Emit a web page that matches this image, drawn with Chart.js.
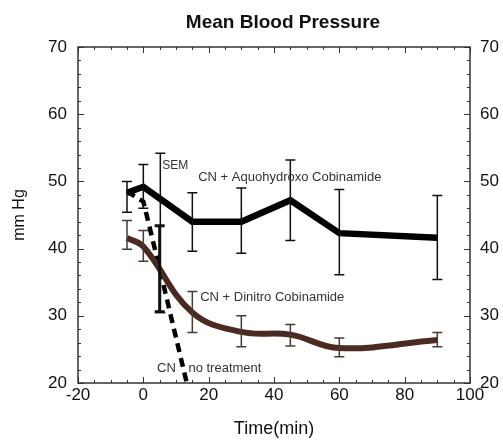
<!DOCTYPE html>
<html>
<head>
<meta charset="utf-8">
<script src="https://cdn.jsdelivr.net/npm/chart.js@4/dist/chart.umd.min.js"></script>
<style>
  html, body { margin: 0; padding: 0; background: #fff; }
  #wrap { width: 503px; height: 441px; }
</style>
</head>
<body>
<div id="wrap"><canvas id="c" width="503" height="441"></canvas></div>
<script>
// ---- data ----
const timeAquo = [-5, 0, 15, 30, 45, 60, 90];
const meanAquo = [48.3, 49.2, 44.0, 44.0, 47.2, 42.3, 41.6];
const hiAquo   = [50.0, 52.5, 48.3, 49.0, 53.2, 48.8, 47.9];
const loAquo   = [45.4, 46.0, 39.6, 39.3, 41.2, 36.1, 35.4];

const timeDinitro = [-5, 0, 15, 30, 45, 60, 90];
const meanDinitro = [41.6, 40.3, 30.5, 27.6, 27.2, 25.2, 26.4];
const hiDinitro   = [44.2, 42.7, 33.6, 30.0, 28.7, 26.7, 27.5];
const loDinitro   = [39.9, 38.1, 27.5, 25.4, 25.5, 23.9, 25.4];

const timeNone = [-5, 0, 5, 15];
const meanNone = [48.5, 47.0, 37.0, 16.5];
const hiNone   = [null, null, 43.4, null];
const loNone   = [null, null, 30.6, null];

const semTime = [5.2];
const semHi   = [54.2];
const semLo   = [30.5];

const xTicks = [-20, 0, 20, 40, 60, 80, 100];
const yTicks = [20, 30, 40, 50, 60, 70];

const labels = [
  { text: 'SEM', x: 5.8, y: 52.4, size: 12 },
  { text: 'CN + Aquohydroxo Cobinamide', x: 16.8, y: 50.6, size: 13 },
  { text: 'CN + Dinitro Cobinamide', x: 17.4, y: 32.7, size: 13 },
  { text: 'CN', x: 4.2, y: 22.1, size: 13 },
  { text: 'no treatment', x: 13.8, y: 22.1, size: 13 }
];

const FONT = "'Liberation Sans', Arial, Helvetica, sans-serif";
const BROWN = '#4b2a22';

function pts(xs, ys) { return xs.map((x, i) => ({ x: x, y: ys[i] })); }

const errorBarPlugin = {
  id: 'errorBars',
  afterDatasetsDraw(chart) {
    const ctx = chart.ctx, xs = chart.scales.x, ys = chart.scales.y;
    const area = chart.chartArea;
    function bars(times, lo, hi, color, width) {
      ctx.save();
      ctx.beginPath();
      ctx.rect(area.left, area.top, area.right - area.left, area.bottom - area.top);
      ctx.clip();
      ctx.strokeStyle = color;
      ctx.lineWidth = width;
      times.forEach((t, i) => {
        if (lo[i] == null || hi[i] == null) return;
        const px = xs.getPixelForValue(t);
        const pl = ys.getPixelForValue(lo[i]);
        const ph = ys.getPixelForValue(hi[i]);
        ctx.beginPath();
        ctx.moveTo(px, pl); ctx.lineTo(px, ph);
        ctx.moveTo(px - 5, pl); ctx.lineTo(px + 5, pl);
        ctx.moveTo(px - 5, ph); ctx.lineTo(px + 5, ph);
        ctx.stroke();
      });
      ctx.restore();
    }
    bars(timeAquo, loAquo, hiAquo, '#111', 1.5);
    bars(timeDinitro, loDinitro, hiDinitro, '#4a3a35', 1.5);
    bars(timeNone, loNone, hiNone, '#111', 3);
    bars(semTime, semLo, semHi, '#111', 1.5);
  }
};

const framePlugin = {
  id: 'frame',
  afterDraw(chart) {
    const ctx = chart.ctx, xs = chart.scales.x, ys = chart.scales.y;
    const a = chart.chartArea;
    ctx.save();
    ctx.strokeStyle = '#333';
    ctx.lineWidth = 1.5;
    ctx.strokeRect(a.left, a.top, a.right - a.left, a.bottom - a.top);
    ctx.lineWidth = 1;
    ctx.beginPath();
    for (let v = -20; v <= 100; v += 5) {
      const px = Math.round(xs.getPixelForValue(v)) + 0.5;
      const len = (v % 20 === 0) ? 6 : 3;
      ctx.moveTo(px, a.bottom); ctx.lineTo(px, a.bottom - len);
      ctx.moveTo(px, a.top); ctx.lineTo(px, a.top + len);
    }
    for (let v = 20; v <= 70; v += 2) {
      const py = Math.round(ys.getPixelForValue(v)) + 0.5;
      const len = (v % 10 === 0) ? 6 : 3;
      ctx.moveTo(a.left, py); ctx.lineTo(a.left + len, py);
      ctx.moveTo(a.right, py); ctx.lineTo(a.right - len, py);
    }
    ctx.stroke();

    // title
    ctx.fillStyle = '#111';
    ctx.font = 'bold 19px ' + FONT;
    ctx.textAlign = 'center';
    ctx.textBaseline = 'middle';
    ctx.fillText('Mean Blood Pressure', 283, 23);

    // annotations
    ctx.fillStyle = '#333';
    ctx.textAlign = 'left';
    labels.forEach(l => {
      ctx.font = l.size + 'px ' + FONT;
      ctx.fillText(l.text, xs.getPixelForValue(l.x), ys.getPixelForValue(l.y));
    });
    ctx.restore();
  }
};

new Chart(document.getElementById('c'), {
  type: 'line',
  data: {
    datasets: [
      {
        label: 'CN + Dinitro Cobinamide',
        data: pts(timeDinitro, meanDinitro),
        borderColor: BROWN,
        borderWidth: 6,
        pointRadius: 0,
        tension: 0.4,
        fill: false
      },
      {
        label: 'CN + Aquohydroxo Cobinamide',
        data: pts(timeAquo, meanAquo),
        borderColor: '#000',
        borderWidth: 6.5,
        pointRadius: 0,
        tension: 0,
        fill: false
      },
      {
        label: 'CN no treatment',
        data: pts(timeNone, meanNone),
        borderColor: '#000',
        borderWidth: 4.5,
        borderDash: [9, 6],
        pointRadius: 0,
        tension: 0,
        fill: false
      }
    ]
  },
  options: {
    responsive: false,
    animation: false,
    devicePixelRatio: 1,
    layout: { padding: { top: 47, left: 0, right: 0, bottom: 0 } },
    plugins: {
      legend: { display: false },
      tooltip: { enabled: false },
      title: { display: false }
    },
    scales: {
      x: {
        type: 'linear',
        position: 'bottom',
        min: -20, max: 100,
        afterBuildTicks: s => { s.ticks = xTicks.map(v => ({ value: v })); },
        afterFit: s => { s.height = 58; },
        grid: { display: false, drawTicks: false },
        border: { display: false },
        ticks: { color: '#111', font: { family: FONT, size: 17 }, padding: 2, maxRotation: 0 },
        title: { display: true, text: 'Time(min)', color: '#111', font: { family: FONT, size: 18 }, padding: { top: 0, bottom: 1 } }
      },
      y: {
        type: 'linear',
        position: 'left',
        min: 20, max: 70,
        afterBuildTicks: s => { s.ticks = yTicks.map(v => ({ value: v })); },
        afterFit: s => { s.width = 78; },
        grid: { display: false, drawTicks: false },
        border: { display: false },
        ticks: { color: '#111', font: { family: FONT, size: 17 }, padding: 11 },
        title: { display: true, text: 'mm Hg', color: '#111', font: { family: FONT, size: 16 }, padding: { top: 10, bottom: 0 } }
      },
      y2: {
        type: 'linear',
        position: 'right',
        min: 20, max: 70,
        afterBuildTicks: s => { s.ticks = yTicks.map(v => ({ value: v })); },
        afterFit: s => { s.width = 33; },
        grid: { display: false, drawTicks: false },
        border: { display: false },
        ticks: { color: '#111', font: { family: FONT, size: 17 }, padding: 10 }
      }
    }
  },
  plugins: [errorBarPlugin, framePlugin]
});
</script>
</body>
</html>
